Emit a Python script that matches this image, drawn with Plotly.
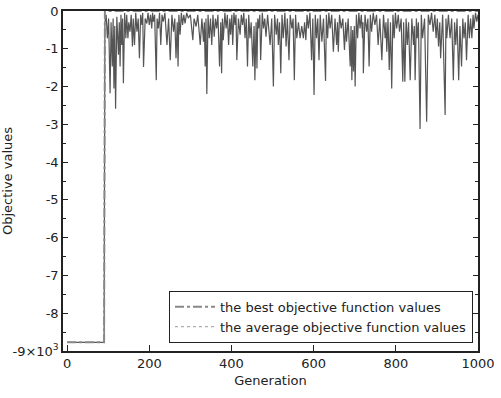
import plotly.graph_objects as go

# Best objective value per generation (breakpoints)
best_gen = [0, 90, 92, 1000]
best_val = [-8770, -8770, 0, 0]

# Average objective value (in thousands)
avg_gen = [0, 90, 92, 95, 98, 101, 104.6, 107, 110, 112, 114, 116, 118, 121, 125, 127, 129, 131, 133, 135, 137, 140, 143, 145, 148, 150, 153, 156, 159, 161, 164, 167, 170, 173, 176, 179, 182, 184, 186, 190, 194, 197, 200, 203, 206, 208, 210, 213, 217, 219, 222, 225, 228, 231, 234, 238, 243, 247, 251, 255, 259, 262, 265, 268, 270, 272, 275, 278, 281, 284, 287, 291, 295, 300, 306, 309, 311, 314, 318, 324, 328, 332, 334, 336, 338, 340, 343, 346, 349, 352, 355, 358, 361, 364, 367, 371, 374, 376, 378, 380, 384, 387, 390, 393, 396, 398, 401, 403, 406, 409, 411, 413, 417, 421, 424, 427, 430, 433, 436, 439, 442, 445, 448, 452, 455, 457, 460, 462, 464, 466, 469, 471, 475, 478, 481, 484, 488, 494, 498, 502, 505, 509, 512, 514, 517, 520, 523, 526, 530, 533, 536, 540, 543, 547, 550, 553, 556, 559, 563, 567, 571, 575, 578, 581, 584, 587, 591, 595, 598, 601, 604, 607, 610, 613, 616, 620, 624, 629, 631, 634, 637, 640, 644, 648, 652, 656, 658, 660, 663, 667, 671, 675, 678, 680, 684, 689, 691, 693, 695, 697, 699, 701, 704, 707, 710, 713, 716, 719, 720, 721, 725, 729, 732, 735, 738, 741, 745, 749, 753, 757, 761, 766, 770, 774, 776, 778, 781, 784, 787, 790, 793, 796, 799, 802, 806, 809, 813, 817, 819, 822, 825, 828, 831, 835, 839, 843, 845, 847, 850, 852, 855, 859, 862, 865, 870, 875, 879, 883, 887, 891, 895, 898, 901, 904, 907, 909, 914, 920, 922, 924, 928, 932, 936, 940, 943, 946, 949, 953, 956, 960, 963, 966, 969, 972, 976, 979, 982, 985, 988, 990, 994, 997, 1000]
avg_val_k = [-8.77, -8.77, -0.3, -0.1, -0.72, -0.2, -2.18, -0.3, -1.47, -0.2, -2.05, -0.4, -2.59, -0.15, -1.16, -0.3, -1.47, -0.1, -0.9, -0.2, -1.91, -0.05, -0.72, -0.1, -0.72, -0.3, -0.55, -0.1, -0.94, -0.2, -0.9, -0.05, -0.55, -0.2, -1.25, -0.1, -0.37, -0.05, -1.48, -0.2, -0.33, -0.05, -0.37, -0.1, -0.46, -0.05, -0.28, -0.1, -1.83, -0.2, -0.46, -0.05, -0.9, -0.1, -0.28, -0.05, -0.9, -0.2, -1.3, -0.1, -0.55, -0.2, -1.25, -0.3, -1.47, -0.1, -0.63, -0.05, -0.37, -0.1, -0.33, -0.05, -0.19, -0.1, -0.77, -0.2, -0.28, -0.41, -0.1, -0.9, -0.2, -0.81, -0.3, -1.47, -0.2, -2.2, -0.1, -0.72, -0.2, -0.9, -0.1, -0.68, -0.2, -0.46, -0.1, -1.47, -0.3, -1.65, -0.2, -0.77, -0.05, -0.46, -0.1, -0.9, -0.2, -0.63, -0.1, -0.9, -0.05, -0.37, -0.1, -1.3, -0.2, -0.63, -0.1, -0.37, -0.05, -0.72, -0.2, -1.47, -0.1, -0.72, -0.3, -1.47, -0.4, -1.83, -0.3, -1.52, -0.2, -0.46, -0.1, -1.3, -0.05, -0.46, -0.2, -0.68, -0.1, -0.9, -0.2, -2.0, -0.1, -0.63, -0.2, -0.9, -0.3, -1.65, -0.1, -0.72, -0.05, -0.94, -0.2, -1.3, -0.1, -0.46, -0.2, -1.83, -0.1, -0.72, -0.3, -0.72, -0.4, -0.72, -0.3, -0.77, -0.1, -0.46, -0.05, -1.3, -0.2, -2.22, -0.1, -0.72, -0.2, -1.3, -0.1, -0.81, -0.2, -1.85, -0.1, -0.72, -0.05, -0.46, -0.1, -1.08, -0.2, -0.9, -0.3, -1.08, -0.1, -0.46, -0.2, -1.03, -0.3, -0.81, -0.2, -1.47, -0.4, -1.83, -0.5, -1.6, -0.4, -2.0, -0.1, -0.72, -0.05, -0.46, -0.1, -0.72, -0.3, -1.65, -0.1, -0.55, -0.2, -1.47, -0.1, -0.55, -0.05, -0.37, -0.1, -0.9, -0.2, -1.3, -0.1, -0.72, -0.3, -1.08, -0.2, -1.56, -0.3, -2.05, -0.1, -0.72, -0.05, -0.46, -0.1, -0.55, -0.2, -1.87, -0.3, -1.87, -0.2, -0.9, -0.3, -1.83, -0.2, -0.9, -0.4, -1.83, -0.2, -0.72, -0.3, -3.12, -0.1, -0.72, -0.2, -2.93, -0.1, -0.37, -0.05, -0.55, -0.1, -0.72, -0.2, -0.94, -0.3, -1.25, -0.1, -2.75, -0.2, -0.72, -0.1, -0.72, -0.2, -1.83, -0.3, -0.9, -0.2, -1.83, -0.4, -1.47, -0.2, -0.72, -0.3, -1.3, -0.1, -0.72, -0.2, -0.72, -0.1, -0.46, -0.05, -0.28, -0.1]
avg_val = [v * 1000 for v in avg_val_k]

y_tick_vals = [0, -1000, -2000, -3000, -4000, -5000, -6000, -7000, -8000, -9000]
y_tick_text = ["0", "-1", "-2", "-3", "-4", "-5", "-6", "-7", "-8", "-9×10<sup>3</sup>"]
x_tick_vals = [0, 200, 400, 600, 800, 1000]

FONT = "DejaVu Sans"
AX = "#222222"

fig = go.Figure()
fig.add_trace(go.Scatter(
    x=avg_gen, y=avg_val, mode="lines",
    line=dict(color="#555555", width=1.2),
    showlegend=False, hoverinfo="skip"))
fig.add_trace(go.Scatter(
    x=best_gen, y=best_val, mode="lines",
    line=dict(color="#888888", width=2, dash="dashdot"),
    name="the best objective function values"))
fig.add_trace(go.Scatter(
    x=[None], y=[None], mode="lines",
    line=dict(color="#999999", width=1, dash="dot"),
    name="the average objective function values"))

fig.update_layout(
    width=501, height=398,
    margin=dict(l=63, r=23, t=11, b=47),
    paper_bgcolor="white", plot_bgcolor="white",
    font=dict(family=FONT, size=12, color="#222222"),
    legend=dict(
        x=0.988, y=0.024, xanchor="right", yanchor="bottom",
        bgcolor="white", bordercolor=AX, borderwidth=1,
        font=dict(family=FONT, size=13, color="#222222"),
        tracegroupgap=0, itemwidth=40),
    xaxis=dict(
        range=[-10, 1000], tickvals=x_tick_vals, automargin=False,
        ticks="inside", ticklen=6, tickwidth=1, tickcolor=AX,
        showline=True, linecolor=AX, linewidth=1.5, mirror=True,
        showgrid=False, zeroline=False,
        title=dict(text="Generation", standoff=6, font=dict(size=13)),
        tickfont=dict(size=13)),
    yaxis=dict(
        range=[-9000, 0], tickvals=y_tick_vals, ticktext=y_tick_text,
        automargin=False,
        ticks="inside", ticklen=5, tickwidth=1, tickcolor=AX,
        minor=dict(dtick=500, ticks="inside", ticklen=3, tickcolor=AX),
        showline=True, linecolor=AX, linewidth=1.5, mirror="ticks",
        showgrid=False, zeroline=False,
        title=dict(text="Objective values", standoff=4, font=dict(size=13)),
        tickfont=dict(size=13)),
)

fig.write_html("out.html")
